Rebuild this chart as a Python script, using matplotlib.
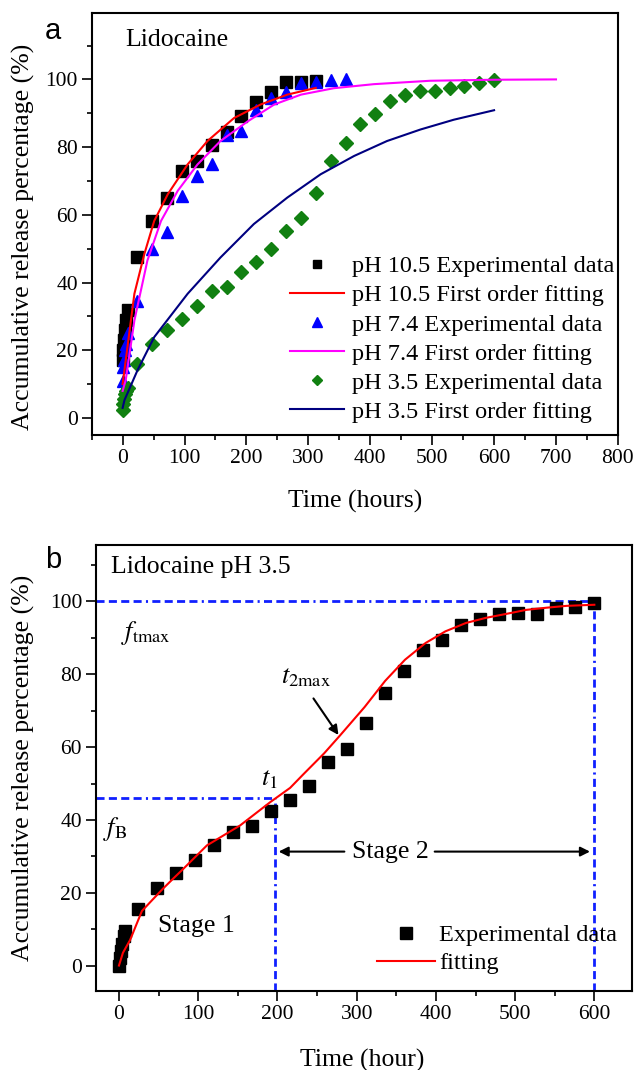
import matplotlib
matplotlib.use("Agg")
import matplotlib.pyplot as plt
from matplotlib.ticker import MultipleLocator

plt.rcParams['font.family'] = ['Liberation Serif', 'DejaVu Serif']
plt.rcParams['mathtext.fontset'] = 'stix'

# ---- panel a data ----
t_105 = [0, 1, 2, 4, 6, 8, 24, 48, 72, 96, 120, 144, 168, 192, 216, 240, 264, 288, 312]
rel_105 = [17, 20, 23, 26, 29, 32, 47.5, 58.3, 65, 73, 76, 80.5, 84.5, 89.2, 93.3, 96.3, 99.2, 99.3, 99.6]

t_74 = [0, 1, 2, 4, 6, 8, 24, 48, 72, 96, 120, 144, 168, 192, 216, 240, 264, 288, 312, 336, 360]
rel_74 = [11, 15, 17, 20, 22, 25, 34.7, 49.9, 54.8, 65.6, 71.5, 75.1, 83.5, 84.9, 91.1, 94.5, 96.3, 98.9,
          99.2, 99.9, 100.2]

t_35 = [0, 1, 2, 4, 6, 8, 24, 48, 72, 96, 120, 144, 168, 192, 216, 240, 264, 288, 312, 336, 360,
        384, 408, 432, 456, 480, 504, 528, 552, 576, 600]
rel_35 = [2.5, 4, 5.5, 7, 8, 9, 16.1, 21.8, 25.9, 29.3, 33.2, 37.6, 38.6, 43, 46, 49.9, 55.3, 59.2,
          66.6, 75.9, 81.3, 86.9, 89.8, 93.7, 95.3, 96.7, 96.7, 97.6, 98.2, 98.9, 99.9]

fit105_t = [0, 5, 19, 35, 51, 73, 105, 137, 180, 223, 266, 312]
fit105_v = [10, 17, 36.7, 48.4, 58.2, 66.1, 74.9, 81.8, 88.6, 92.6, 95.5, 97.5]

fit74_t = [0, 5, 19, 40, 62, 89, 121, 158, 202, 245, 288, 341, 406, 497, 600, 700]
fit74_v = [8, 11.2, 28.8, 46.5, 58.2, 67.1, 74.9, 81.8, 87.6, 92.6, 95.5, 97.4, 98.6, 99.6, 99.9, 100]

fit35_t = [0, 3, 24, 51, 105, 158, 212, 266, 320, 374, 427, 481, 535, 600]
fit35_v = [3, 5.3, 14.1, 23.9, 36.7, 47.4, 57.3, 65.1, 72, 77.4, 81.8, 85.2, 88.1, 90.9]

labels_a = ['pH 10.5 Experimental data', 'pH 10.5 First order fitting',
            'pH 7.4 Experimental data', 'pH 7.4 First order fitting',
            'pH 3.5 Experimental data', 'pH 3.5 First order fitting']

# ---- panel b data ----
t_b = t_35
rel_b = [0, 2, 4, 6, 8, 9.5, 15.6, 21.4, 25.5, 29, 33.1, 36.7, 38.3, 42.5, 45.5, 49.4, 55.8, 59.5,
         66.6, 75, 80.9, 86.8, 89.5, 93.6, 95.2, 96.6, 96.8, 96.6, 98.2, 98.6, 99.7]
fitb_t = [0, 5, 14, 29, 55, 69, 80, 111, 153, 191, 216, 233, 259, 279, 310, 336, 361, 387, 412, 438,
          463, 489, 514, 540, 565, 600]
fitb_v = [0, 3.5, 7, 15, 21, 24, 26.3, 33, 38.5, 44.9, 48.8, 52.6, 58.3, 63.2, 71, 78.2, 84, 88.6,
          91.8, 94.1, 95.5, 96.6, 97.7, 98.3, 98.8, 99.1]
t1 = 197
f_B = 46
t_max = 600
f_max = 100

fig = plt.figure(figsize=(6.34, 10.70), dpi=100)
ax1 = fig.add_axes([0.1446, 0.5935, 0.830, 0.394])
ax2 = fig.add_axes([0.1514, 0.0738, 0.8448, 0.4168])


def style_axis(ax):
    for s in ax.spines.values():
        s.set_linewidth(1.5)
    ax.tick_params(which='both', direction='out', top=False, right=False, width=1.2,
                   labelsize=15.5, pad=3)
    ax.tick_params(which='major', length=7)
    ax.tick_params(which='minor', length=3.5)


# panel a
ax1.plot(t_105, rel_105, 's', color='black', ms=8, label=labels_a[0], zorder=3)
ax1.plot(fit105_t, fit105_v, '-', color='#ff0000', lw=1.5, label=labels_a[1], zorder=4)
ax1.plot(t_74, rel_74, '^', color='#0000ff', ms=9, label=labels_a[2], zorder=3)
ax1.plot(fit74_t, fit74_v, '-', color='#ff00ff', lw=1.5, label=labels_a[3], zorder=4)
ax1.plot(t_35, rel_35, 'D', color='#118011', ms=7, label=labels_a[4], zorder=3)
ax1.plot(fit35_t, fit35_v, '-', color='#000080', lw=1.5, label=labels_a[5], zorder=4)
ax1.set_xlim(-50, 800)
ax1.set_ylim(-5, 119.5)
ax1.xaxis.set_major_locator(MultipleLocator(100))
ax1.xaxis.set_minor_locator(MultipleLocator(50))
ax1.yaxis.set_major_locator(MultipleLocator(20))
ax1.yaxis.set_minor_locator(MultipleLocator(10))
style_axis(ax1)
ax1.set_xlabel('Time (hours)', fontsize=18.5)
ax1.set_ylabel('Accumulative release percentage (%)', fontsize=18.5)
ax1.xaxis.set_label_coords(0.5, -0.13)
ax1.yaxis.set_label_coords(-0.108, 0.47)
ax1.text(4, 111.5, 'Lidocaine', fontsize=18.5, va='center', ha='left')
ax1.legend(loc='upper left', bbox_to_anchor=(0.377, 0.426), frameon=False, fontsize=17.5,
           numpoints=1, markerscale=0.75, handlelength=2.2, handletextpad=0.35, borderpad=0,
           borderaxespad=0, labelspacing=0.29)
fig.text(53 / 634, 1 - 31 / 1070, 'a', family='Liberation Sans', fontsize=21, ha='center', va='center')

# panel b
blue_dash = (2.9, 1.55, 2.9, 1.55, 2.9, 1.55, 2.9, 1.55, 0.75, 1.55)
ax2.plot([-29, t_max], [f_max, f_max], color='#1020ff', lw=2, dashes=blue_dash, zorder=2)
ax2.plot([t_max, t_max], [-7, f_max], color='#1020ff', lw=2, dashes=blue_dash, zorder=2)
ax2.plot([-29, t1], [f_B, f_B], color='#1020ff', lw=2, dashes=blue_dash, zorder=2)
ax2.plot([t1, t1], [-7, f_B], color='#1020ff', lw=2, dashes=blue_dash, zorder=2)
ax2.plot(t_b, rel_b, 's', color='black', ms=8, label='Experimental data', zorder=3)
ax2.plot(fitb_t, fitb_v, '-', color='#ff0000', lw=1.5, label='fitting', zorder=4)
ax2.set_xlim(-29, 647)
ax2.set_ylim(-7, 115.5)
ax2.xaxis.set_major_locator(MultipleLocator(100))
ax2.xaxis.set_minor_locator(MultipleLocator(50))
ax2.yaxis.set_major_locator(MultipleLocator(20))
ax2.yaxis.set_minor_locator(MultipleLocator(10))
style_axis(ax2)
ax2.set_xlabel('Time (hour)', fontsize=18.5)
ax2.set_ylabel('Accumulative release percentage (%)', fontsize=18.5)
ax2.xaxis.set_label_coords(0.497, -0.13)
ax2.yaxis.set_label_coords(-0.113, 0.5)
ax2.text(-10, 109.6, 'Lidocaine pH 3.5', fontsize=18.5, va='center', ha='left')
ax2.text(3, 91.4, r'$f_{\mathrm{tmax}}$', fontsize=19, va='center', ha='left')
ax2.text(-20, 37.6, r'$f_{\mathrm{B}}$', fontsize=19, va='center', ha='left')
ax2.text(190, 51, r'$t_{\mathrm{1}}$', fontsize=19, va='center', ha='center')
ax2.text(205, 79, r'$t_{\mathrm{2max}}$', fontsize=19, va='center', ha='left')
ax2.annotate('', xy=(279, 62.7), xytext=(243.5, 74),
             arrowprops=dict(arrowstyle='-|>', color='black', lw=1.5, mutation_scale=14))
ax2.text(342, 31.3, 'Stage 2', fontsize=18.5, va='center', ha='center')
ax2.annotate('', xy=(198, 31.3), xytext=(288, 31.3),
             arrowprops=dict(arrowstyle='-|>', color='black', lw=1.5, mutation_scale=14))
ax2.annotate('', xy=(598, 31.3), xytext=(395, 31.3),
             arrowprops=dict(arrowstyle='-|>', color='black', lw=1.5, mutation_scale=14))
ax2.text(98, 10.9, 'Stage 1', fontsize=18.5, va='center', ha='center')
ax2.legend(loc='upper left', bbox_to_anchor=(0.524, 0.15), frameon=False, fontsize=17.5,
           numpoints=1, handlelength=2.4, handletextpad=0.17, borderpad=0, borderaxespad=0,
           labelspacing=0.25)
fig.text(53 / 634, 1 - 560 / 1070, 'b', family='Liberation Sans', fontsize=21, ha='center', va='center')

fig.savefig('out.png', dpi=100)
